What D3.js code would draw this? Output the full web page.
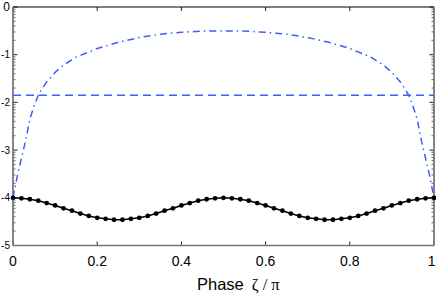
<!DOCTYPE html>
<html>
<head>
<meta charset="utf-8">
<script src="https://cdn.jsdelivr.net/npm/d3@7"></script>
<style>
body { margin: 0; background: #fff; }
svg { display: block; font-family: "Liberation Sans", Arial, sans-serif; }
</style>
</head>
<body>
<div id="chart"></div>
<script>
// phase grid (zeta / pi) and log10 values
var phase = [0, 0.02, 0.04, 0.06, 0.08, 0.10, 0.12, 0.14, 0.16, 0.18, 0.20, 0.22, 0.24,
  0.26, 0.28, 0.30, 0.32, 0.34, 0.36, 0.38, 0.40, 0.42, 0.44, 0.46, 0.48, 0.50,
  0.52, 0.54, 0.56, 0.58, 0.60, 0.62, 0.64, 0.66, 0.68, 0.70, 0.72, 0.74, 0.76,
  0.78, 0.80, 0.82, 0.84, 0.86, 0.88, 0.90, 0.92, 0.94, 0.96, 0.98, 1.00];
var solidExp = [-4.00, -4.01, -4.03, -4.06, -4.11, -4.16, -4.22, -4.27, -4.33, -4.38, -4.42, -4.44, -4.46,
  -4.46, -4.44, -4.42, -4.38, -4.33, -4.27, -4.22, -4.16, -4.11, -4.06, -4.03, -4.01, -4.00,
  -4.01, -4.03, -4.06, -4.11, -4.16, -4.22, -4.27, -4.33, -4.38, -4.42, -4.44, -4.46,
  -4.46, -4.44, -4.42, -4.38, -4.33, -4.27, -4.22, -4.16, -4.11, -4.06, -4.03, -4.01, -4.00];

var dashDotPhase = [0, 0.005, 0.01, 0.02, 0.03, 0.04, 0.05, 0.06, 0.07, 0.08, 0.10, 0.12, 0.15,
  0.20, 0.25, 0.30, 0.35, 0.40, 0.45, 0.50, 0.55, 0.60, 0.65, 0.70, 0.75, 0.80,
  0.85, 0.88, 0.90, 0.92, 0.93, 0.94, 0.95, 0.96, 0.97, 0.98, 0.99, 0.995, 1];
var dashDotExp = [-4.0, -3.78, -3.55, -3.17, -2.8, -2.35, -2.08, -1.85, -1.7, -1.57, -1.37, -1.22, -1.05,
  -0.87, -0.74, -0.64, -0.57, -0.53, -0.505, -0.50, -0.505, -0.53, -0.57, -0.64, -0.74, -0.87,
  -1.05, -1.22, -1.37, -1.57, -1.7, -1.85, -2.08, -2.35, -2.8, -3.17, -3.55, -3.78, -4.0];

var dashedExp = -1.85;

var xTicks = [0, 0.2, 0.4, 0.6, 0.8, 1];
var yDecades = [0, -1, -2, -3, -4, -5];

var W = 436, H = 295;
var margin = {top: 7, right: 2, bottom: 49.5, left: 13};
var width = W - margin.left - margin.right,
    height = H - margin.top - margin.bottom;

var x = d3.scaleLinear().domain([0, 1]).range([0, width]);
var y = d3.scaleLog().domain([1e-5, 1]).range([height, 0]);

var svg = d3.select("#chart").append("svg")
    .attr("width", W)
    .attr("height", H);
var g = svg.append("g")
    .attr("transform", "translate(" + margin.left + "," + margin.top + ")");

// minor + major log ticks, drawn inward on left and right
var minor = [];
yDecades.slice(1).forEach(function(e) {
  for (var k = 2; k <= 9; k++) minor.push(k * Math.pow(10, e));
});
var major = yDecades.map(function(e) { return Math.pow(10, e); });

function yTicks(sel, x0, dir) {
  sel.selectAll(null).data(minor).enter().append("line")
    .attr("x1", x0).attr("x2", x0 + dir * 2.5)
    .attr("y1", function(d) { return y(d); }).attr("y2", function(d) { return y(d); })
    .attr("stroke", "#444").attr("stroke-width", 0.8);
  sel.selectAll(null).data(major).enter().append("line")
    .attr("x1", x0).attr("x2", x0 + dir * 4.5)
    .attr("y1", function(d) { return y(d); }).attr("y2", function(d) { return y(d); })
    .attr("stroke", "#222").attr("stroke-width", 1);
}
yTicks(g.append("g"), 0, 1);
yTicks(g.append("g"), width, -1);

// x ticks inward top and bottom
g.append("g").selectAll("line").data(xTicks).enter().append("line")
  .attr("x1", function(d) { return x(d); }).attr("x2", function(d) { return x(d); })
  .attr("y1", height).attr("y2", height - 4)
  .attr("stroke", "#222");
g.append("g").selectAll("line").data(xTicks).enter().append("line")
  .attr("x1", function(d) { return x(d); }).attr("x2", function(d) { return x(d); })
  .attr("y1", 0).attr("y2", 4)
  .attr("stroke", "#222");

// frame
g.append("line").attr("x1", 0).attr("x2", width).attr("y1", 0).attr("y2", 0)
  .attr("stroke", "#000").attr("stroke-width", 1);
g.append("line").attr("x1", 0).attr("x2", width).attr("y1", height).attr("y2", height)
  .attr("stroke", "#777").attr("stroke-width", 1.5);
g.append("line").attr("x1", 0).attr("x2", 0).attr("y1", 0).attr("y2", height)
  .attr("stroke", "#777").attr("stroke-width", 1.8);
g.append("line").attr("x1", width).attr("x2", width).attr("y1", 0).attr("y2", height)
  .attr("stroke", "#777").attr("stroke-width", 1.8);

// tick labels (exponents of 10)
g.append("g").selectAll("text").data(yDecades).enter().append("text")
  .attr("x", -3)
  .attr("y", function(d) { return y(Math.pow(10, d)); })
  .attr("dy", "0.35em")
  .attr("text-anchor", "end")
  .attr("font-size", function(d) { return d === 0 ? 12 : 10; })
  .text(function(d) { return d === 0 ? "0" : "-" + Math.abs(d); });

g.append("g").selectAll("text").data(xTicks).enter().append("text")
  .attr("x", function(d) { return d === 1 ? width + 1.5 : x(d); })
  .attr("y", height + 20.5)
  .attr("text-anchor", function(d) { return d === 1 ? "end" : "middle"; })
  .attr("font-size", 14)
  .text(function(d) { return d; });

var lab = svg.append("text")
  .attr("x", 197).attr("y", 290)
  .attr("font-size", 16.5);
lab.append("tspan").text("Phase");
lab.append("tspan").attr("dx", 8).attr("font-family", "'Liberation Serif', serif").text("ζ");
lab.append("tspan").attr("dx", 4).attr("font-family", "'Liberation Serif', serif").text("/");
lab.append("tspan").attr("dx", 4).attr("font-family", "'Liberation Serif', serif").text("π");

var blue = "#3f5ef5";
var line = d3.line()
  .x(function(d) { return x(d[0]); })
  .y(function(d) { return y(Math.pow(10, d[1])); });

// dashed level
g.append("path")
  .datum([[0, dashedExp], [1, dashedExp]])
  .attr("d", line)
  .attr("fill", "none").attr("stroke", blue).attr("stroke-width", 1.6)
  .attr("stroke-dasharray", "8,5");

// dash-dot curve
g.append("path")
  .datum(dashDotPhase.map(function(p, i) { return [p, dashDotExp[i]]; }))
  .attr("d", line)
  .attr("fill", "none").attr("stroke", blue).attr("stroke-width", 1.5)
  .attr("stroke-dasharray", "7,4,1.5,4");

// solid curve with markers
var solid = phase.map(function(p, i) { return [p, solidExp[i]]; });
g.append("path")
  .datum(solid)
  .attr("d", line)
  .attr("fill", "none").attr("stroke", "#000").attr("stroke-width", 1.6);
g.append("g").selectAll("circle").data(solid).enter().append("circle")
  .attr("cx", function(d) { return x(d[0]); })
  .attr("cy", function(d) { return y(Math.pow(10, d[1])); })
  .attr("r", 2.4)
  .attr("fill", "#000");
</script>
</body>
</html>
